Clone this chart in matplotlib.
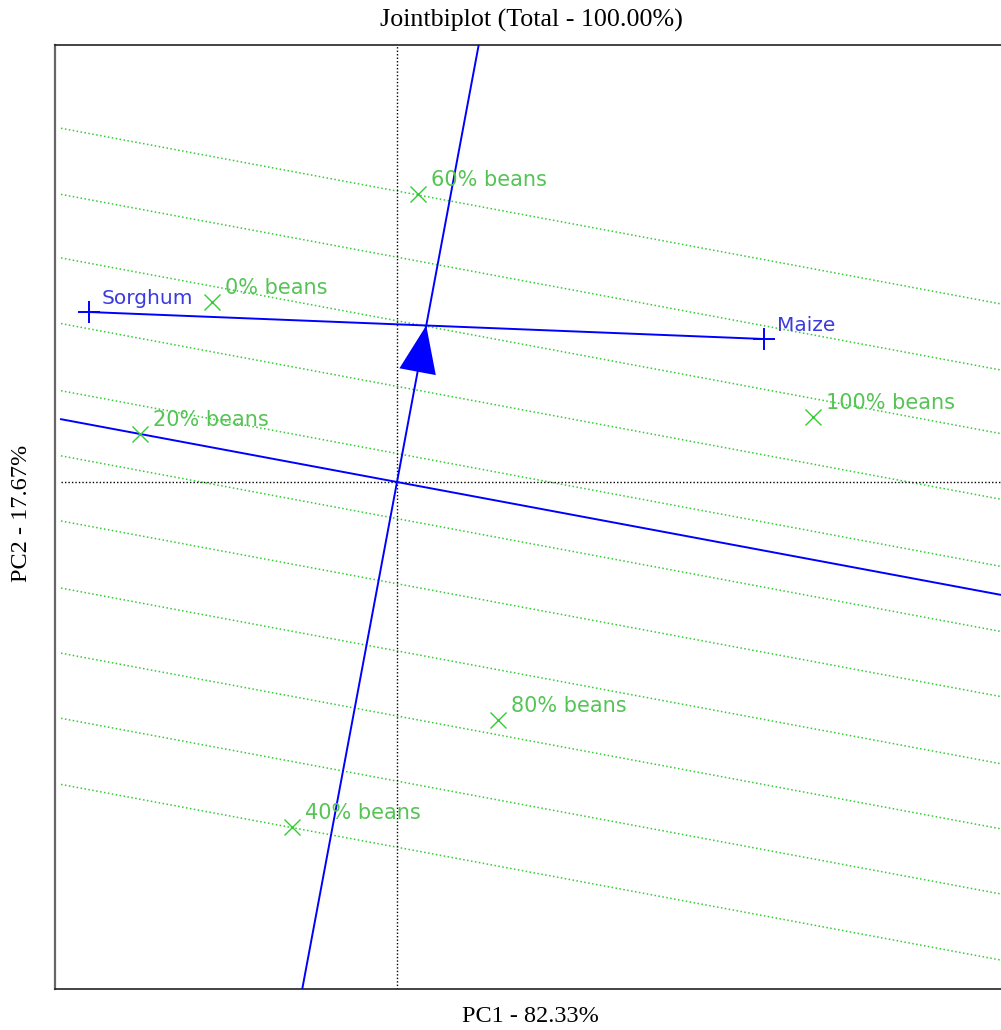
import numpy as np
import matplotlib
matplotlib.use("Agg")
import matplotlib.pyplot as plt

# ==========================================
# DATOS
# ==========================================
GENOTIPOS = ['0% beans', '20% beans', '40% beans', '60% beans', '80% beans', '100% beans']
GEN_PC1 = [-1.85, -2.57, -1.05, 0.21, 1.01, 4.16]
GEN_PC2 = [1.80, 0.48, -3.45, 2.88, -2.38, 0.65]

AMBIENTES = ['Sorghum', 'Maize']
AMB_PC1 = [-3.085, 3.67]
AMB_PC2 = [1.70, 1.43]

# desplazamientos de las líneas verdes sobre el eje AEC
OFFSETS_LINEAS = [2.86, 2.21, 1.585, 0.94, 0.28, -0.36, -1.00, -1.66, -2.30, -2.94, -3.59]

TITULO = "Jointbiplot (Total - 100.00%)"
XLABEL = "PC1 - 82.33%"
YLABEL = "PC2 - 17.67%"

VERDE = '#33cc33'
VERDE_TXT = '#55c455'
AZUL = '#0000ff'
AZUL_TXT = '#3a3ae0'

XLIM = (-3.42, 6.06)
YLIM = (-5.07, 4.37)
X_INICIO = -3.36

# ==========================================
# FIGURA
# ==========================================
W, H = 1001, 1030
fig = plt.figure(figsize=(W / 100, H / 100), dpi=100)
ax = fig.add_axes([55 / W, 41 / H, 948 / W, 944 / H])
ax.set_xlim(*XLIM)
ax.set_ylim(*YLIM)
ax.set_xticks([])
ax.set_yticks([])
ax.spines['right'].set_visible(False)
ax.spines['left'].set_color('#666666')
ax.spines['left'].set_linewidth(1.6)
for s in ['top', 'bottom']:
    ax.spines[s].set_color('#222222')
    ax.spines[s].set_linewidth(1.2)

# ejes por el origen
ax.plot([X_INICIO, XLIM[1]], [0, 0], color='black', ls=(0, (1, 1.5)), lw=1.0, zorder=2)
ax.plot([0, 0], [YLIM[0], YLIM[1]], color='black', ls=(0, (1, 1.5)), lw=1.0, zorder=2)

# eje del ambiente promedio (AEC)
aec = np.array([np.mean(AMB_PC1), np.mean(AMB_PC2)])
u = aec / np.linalg.norm(aec)
perp = np.array([u[1], -u[0]])

# líneas verdes perpendiculares al AEC
xs = np.array([X_INICIO, XLIM[1] + 0.5])
for c in OFFSETS_LINEAS:
    ys = (c - xs * u[0]) / u[1]
    ax.plot(xs, ys, color=VERDE, ls=(0, (1, 1.6)), lw=1.1, zorder=1)

# abscisa AEC (recta por el origen y el ambiente promedio)
t = np.array([-8, 8])
ax.plot(t * u[0], t * u[1], color=AZUL, lw=1.4, zorder=3)
# ordenada AEC
t0 = X_INICIO / perp[0]
ax.plot([t0 * perp[0], 8 * perp[0]], [t0 * perp[1], 8 * perp[1]], color=AZUL, lw=1.4, zorder=3)

# línea entre ambientes
ax.plot(AMB_PC1, AMB_PC2, color=AZUL, lw=1.4, zorder=3)
ax.plot(AMB_PC1, AMB_PC2, ls='none', marker='+', ms=16, mew=1.4, color=AZUL, zorder=4)

# flecha hacia el ambiente promedio
ax.arrow(0, 0, aec[0], aec[1], head_width=0.37, head_length=0.47,
         length_includes_head=True, color=AZUL, lw=0, zorder=5)

# genotipos
ax.plot(GEN_PC1, GEN_PC2, ls='none', marker='x', ms=12, mew=1.0, color=VERDE, zorder=4)
for nombre, x, y in zip(GENOTIPOS, GEN_PC1, GEN_PC2):
    ax.annotate(nombre, (x, y), xytext=(9.5, 10), textcoords='offset points',
                ha='left', va='center', color=VERDE_TXT, fontsize=15,
                family='DejaVu Sans', zorder=6)
for nombre, x, y in zip(AMBIENTES, AMB_PC1, AMB_PC2):
    ax.annotate(nombre, (x, y), xytext=(9.5, 10), textcoords='offset points',
                ha='left', va='center', color=AZUL_TXT, fontsize=14.5,
                family='DejaVu Sans', zorder=6)

# textos
fig.text(531 / W, 1 - 20 / H, TITULO, ha='center', va='center',
         family='Liberation Serif', fontsize=18.7)
fig.text(530 / W, 1 - 1017 / H, XLABEL, ha='center', va='center',
         family='Liberation Serif', fontsize=17.5)
fig.text(22 / W, 1 - 513 / H, YLABEL, ha='center', va='center', rotation=90,
         family='Liberation Serif', fontsize=17.5)

fig.savefig('out.png', dpi=100)
